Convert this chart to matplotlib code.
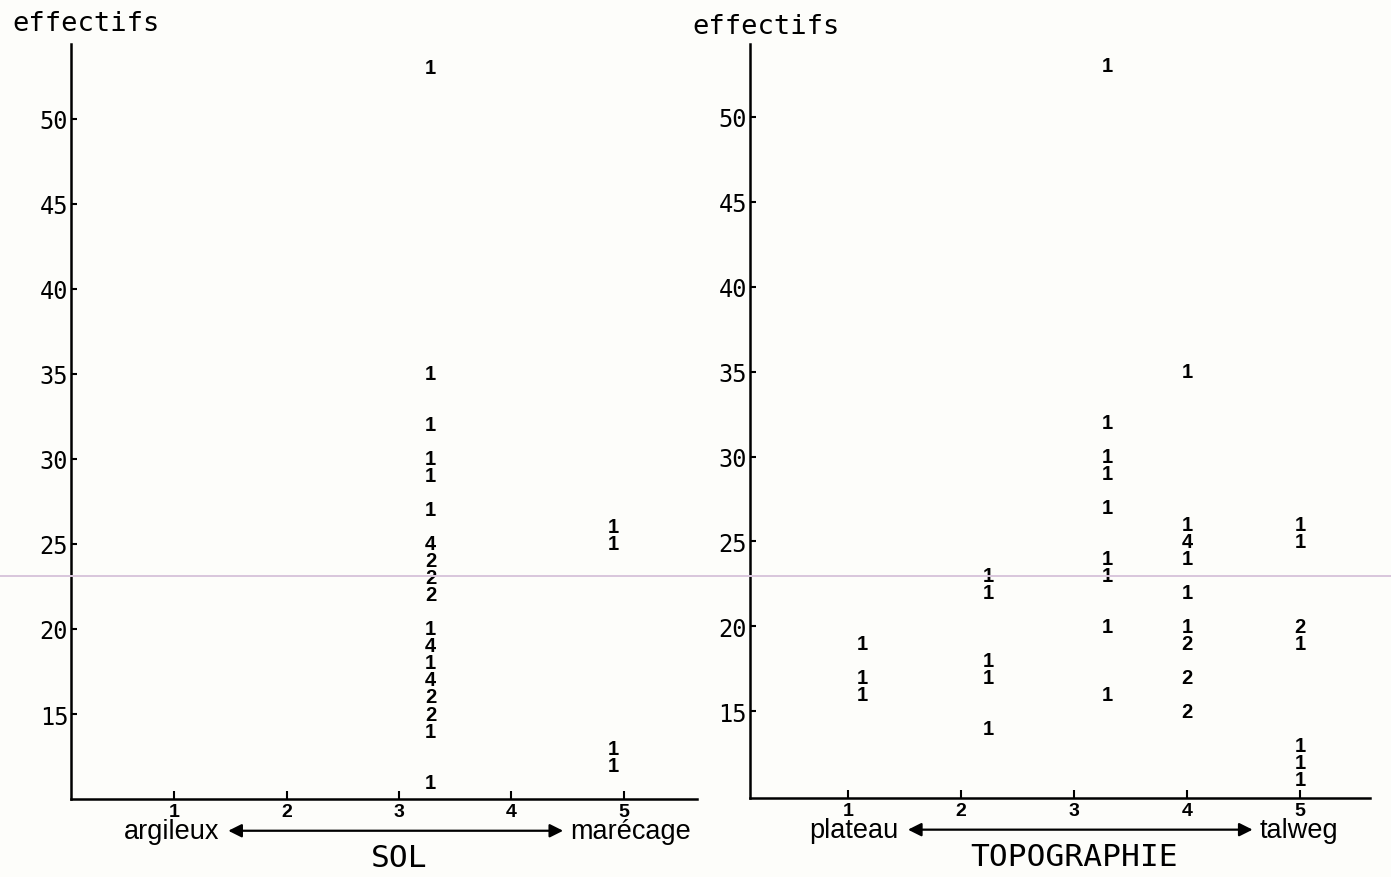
import matplotlib.pyplot as plt
from matplotlib.lines import Line2D

# SOL panel: x position, effectifs, count label
sol_x = [3.28] * 18 + [4.91] * 4
sol_y = [53, 35, 32, 30, 29, 27, 25, 24, 23, 22, 20, 19, 18, 17, 16, 15, 14, 11,
         26, 25, 13, 12]
sol_n = ['1', '1', '1', '1', '1', '1', '4', '2', '2', '2', '1', '4', '1', '4', '2', '2', '1', '1',
         '1', '1', '1', '1']

# TOPOGRAPHIE panel
topo_x = [1.13] * 3 + [2.24] * 5 + [3.29] * 9 + [4.0] * 9 + [5.0] * 7
topo_y = ([19, 17, 16] +
          [23, 22, 18, 17, 14] +
          [53, 32, 30, 29, 27, 24, 23, 20, 16] +
          [35, 26, 25, 24, 22, 20, 19, 17, 15] +
          [26, 25, 20, 19, 13, 12, 11])
topo_n = (['1', '1', '1'] +
          ['1', '1', '1', '1', '1'] +
          ['1', '1', '1', '1', '1', '1', '1', '1', '1'] +
          ['1', '1', '4', '1', '1', '1', '2', '2', '2'] +
          ['1', '1', '2', '1', '1', '1', '1'])

xticks = [1, 2, 3, 4, 5]
yticks = [15, 20, 25, 30, 35, 40, 45, 50]

bg = '#fdfdfa'
mono = 'DejaVu Sans Mono'
num_font = ['Liberation Sans', 'DejaVu Sans']
label_font = ['Liberation Sans', 'DejaVu Sans']


def setup_axes(ax, xlim, ylim):
    ax.set_xlim(*xlim)
    ax.set_ylim(*ylim)
    ax.set_facecolor(bg)
    for s in ['top', 'right']:
        ax.spines[s].set_visible(False)
    for s in ['left', 'bottom']:
        ax.spines[s].set_linewidth(1.8)
    ax.set_xticks(xticks)
    ax.set_yticks(yticks)
    ax.set_xticklabels([str(t) for t in xticks], fontsize=14, fontweight='bold',
                       family=num_font)
    ax.set_yticklabels([str(t) for t in yticks], fontsize=17, family=mono)
    ax.tick_params(axis='x', direction='in', length=6, width=1.5, pad=3)
    ax.tick_params(axis='y', direction='in', length=4, width=1.5, pad=2)


def draw_counts(ax, xs, ys, ns):
    for x, y, n in zip(xs, ys, ns):
        ax.text(x, y, n, ha='center', va='center', fontsize=14.5,
                fontweight='bold', family=num_font)


def draw_scale(ax, left, right, x_left, x_right, title):
    ax.annotate('', xy=(x_left, -0.042), xytext=(x_right, -0.042),
                xycoords=('data', 'axes fraction'),
                textcoords=('data', 'axes fraction'),
                arrowprops=dict(arrowstyle='<|-|>', color='black', lw=1.6,
                                mutation_scale=20, shrinkA=0, shrinkB=0))
    ax.text(x_left - 0.08, -0.042, left, transform=ax.get_xaxis_transform(),
            ha='right', va='center', fontsize=19.5, family=label_font)
    ax.text(x_right + 0.06, -0.042, right, transform=ax.get_xaxis_transform(),
            ha='left', va='center', fontsize=19.5, family=label_font)
    ax.text(3.0, -0.078, title, transform=ax.get_xaxis_transform(),
            ha='center', va='center', fontsize=22.5, family=mono)


fig = plt.figure(figsize=(13.91, 8.78), dpi=100, facecolor=bg)

ax1 = fig.add_axes([0.051, 0.0888, 0.450, 0.860])
setup_axes(ax1, (0.08, 5.65), (10.0, 54.4))
draw_counts(ax1, sol_x, sol_y, sol_n)
draw_scale(ax1, 'argileux', 'marécage', 1.48, 4.46, 'SOL')

ax2 = fig.add_axes([0.539, 0.090, 0.446, 0.859])
setup_axes(ax2, (0.13, 5.62), (9.9, 54.3))
draw_counts(ax2, topo_x, topo_y, topo_n)
draw_scale(ax2, 'plateau', 'talweg', 1.53, 4.58, 'TOPOGRAPHIE')

fig.text(0.0086, 0.973, 'effectifs', ha='left', va='center', fontsize=19.5, family=mono)
fig.text(0.498, 0.969, 'effectifs', ha='left', va='center', fontsize=19.5, family=mono)

# faint scan line across the page
fig.add_artist(Line2D([0, 1], [1 - 577 / 878] * 2, transform=fig.transFigure,
                      color='#d9c6dc', lw=1.4, zorder=10))

fig.savefig('out.png', dpi=100, facecolor=bg)
